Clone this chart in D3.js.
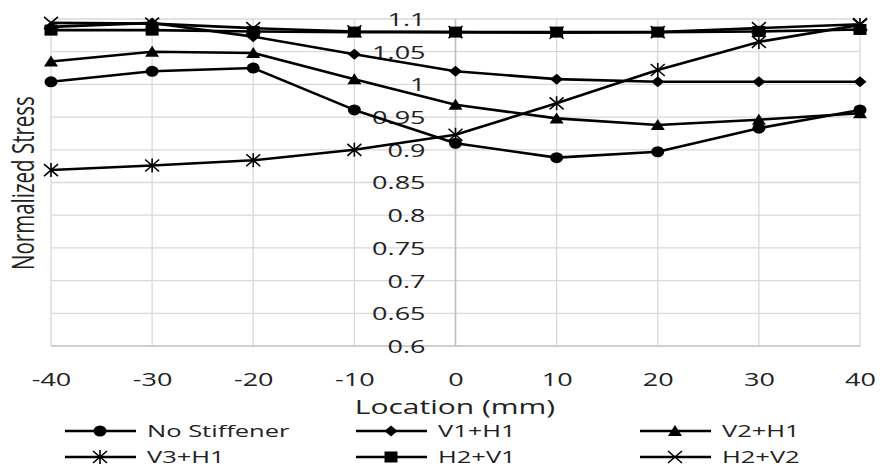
<!DOCTYPE html>
<html>
<head>
<meta charset="utf-8">
<script src="https://cdn.jsdelivr.net/npm/d3@7"></script>
<style>
  html, body { margin: 0; padding: 0; background: #fff; }
  svg { display: block; }
  text { font-family: "Open Sans", sans-serif; fill: #222; }
</style>
</head>
<body>
<svg id="chart" width="880" height="468"></svg>
<script>
// ---- data ----
const locations = [-40, -30, -20, -10, 0, 10, 20, 30, 40];
const xTickLabels = ["-40", "-30", "-20", "-10", "0", "10", "20", "30", "40"];
const yTicks = [0.6, 0.65, 0.7, 0.75, 0.8, 0.85, 0.9, 0.95, 1, 1.05, 1.1];
const yTickLabels = ["0.6", "0.65", "0.7", "0.75", "0.8", "0.85", "0.9", "0.95", "1", "1.05", "1.1"];
const seriesNames = ["No Stiffener", "V1+H1", "V2+H1", "V3+H1", "H2+V1", "H2+V2"];
const noStiffener = [1.004, 1.020, 1.025, 0.961, 0.910, 0.888, 0.897, 0.933, 0.961];
const v1h1 = [1.088, 1.094, 1.073, 1.046, 1.020, 1.008, 1.004, 1.004, 1.004];
const v2h1 = [1.035, 1.050, 1.048, 1.008, 0.969, 0.948, 0.938, 0.946, 0.956];
const v3h1 = [0.869, 0.876, 0.884, 0.900, 0.923, 0.971, 1.022, 1.065, 1.091];
const h2v1 = [1.083, 1.083, 1.081, 1.080, 1.080, 1.080, 1.080, 1.081, 1.084];
const h2v2 = [1.094, 1.093, 1.086, 1.081, 1.080, 1.079, 1.080, 1.086, 1.092];
const markers = ["circle", "diamond", "triangle", "star", "square", "times"];

const seriesValues = [noStiffener, v1h1, v2h1, v3h1, h2v1, h2v2];

// ---- layout ----
const SX = 1.5; // horizontal stretch of text in the reference
const svg = d3.select("#chart");
const x = d3.scaleLinear().domain([-40, 40]).range([51, 860]);
const y = d3.scaleLinear().domain([0.6, 1.1]).range([346, 19]);

// gridlines
const grid = svg.append("g");
grid.selectAll("line.h").data(yTicks).join("line")
  .attr("x1", x(-40)).attr("x2", x(40))
  .attr("y1", d => y(d)).attr("y2", d => y(d))
  .attr("stroke", "#d9d9d9").attr("stroke-width", 1.3);
grid.selectAll("line.v").data(locations).join("line")
  .attr("x1", d => x(d)).attr("x2", d => x(d))
  .attr("y1", y(0.6)).attr("y2", y(1.1))
  .attr("stroke", "#d9d9d9").attr("stroke-width", 1.3);
// bottom axis line and vertical axis line at 0
svg.append("line").attr("x1", x(-40)).attr("x2", x(40)).attr("y1", y(0.6)).attr("y2", y(0.6))
  .attr("stroke", "#c8c8c8").attr("stroke-width", 1.5);
svg.append("line").attr("x1", x(0)).attr("x2", x(0)).attr("y1", y(0.6)).attr("y2", y(1.1))
  .attr("stroke", "#bfbfbf").attr("stroke-width", 1.5);

// y axis (labels left of the x=0 line)
const yAxis = d3.axisLeft(y).tickValues(yTicks).tickFormat((d, i) => yTickLabels[i]).tickSize(0);
const gy = svg.append("g").attr("transform", `translate(${x(0)},0)`).call(yAxis);
gy.select(".domain").remove();
gy.selectAll("text")
  .attr("x", -30 / SX).attr("dy", "0.36em")
  .attr("transform", `scale(${SX},1)`)
  .style("font-size", "18px").style("font-family", "'Open Sans', sans-serif").attr("fill", "#222");

// x axis
const xAxis = d3.axisBottom(x).tickValues(locations).tickFormat((d, i) => xTickLabels[i]).tickSize(0);
const gx = svg.append("g").attr("transform", `translate(0,${y(0.6)})`).call(xAxis);
gx.select(".domain").remove();
gx.selectAll("text")
  .attr("y", 34).attr("dy", "0.36em")
  .attr("transform", `scale(${SX},1)`)
  .style("font-size", "18px").style("font-family", "'Open Sans', sans-serif").attr("fill", "#222");

// axis titles
svg.append("text").attr("transform", `translate(455,407) scale(${SX},1)`)
  .attr("text-anchor", "middle").attr("dy", "0.36em")
  .style("font-size", "20px").text("Location (mm)");
svg.append("text").attr("transform", `translate(23,183) rotate(-90) scale(1,${SX})`)
  .attr("text-anchor", "middle").attr("dy", "0.36em")
  .style("font-size", "20.5px").text("Normalized Stress");

// markers
function drawMarker(g, type, cx, cy) {
  const sw = 1.6;
  if (type === "circle") {
    g.append("ellipse").attr("cx", cx).attr("cy", cy).attr("rx", 6.5).attr("ry", 5.5).attr("fill", "#000");
  } else if (type === "diamond") {
    g.append("path").attr("d", `M${cx},${cy - 5.5}L${cx + 6.5},${cy}L${cx},${cy + 5.5}L${cx - 6.5},${cy}Z`).attr("fill", "#000");
  } else if (type === "triangle") {
    g.append("path").attr("d", `M${cx},${cy - 6}L${cx + 7},${cy + 5}L${cx - 7},${cy + 5}Z`).attr("fill", "#000");
  } else if (type === "square") {
    g.append("rect").attr("x", cx - 6.5).attr("y", cy - 5.5).attr("width", 13).attr("height", 11).attr("fill", "#000");
  } else if (type === "star") {
    g.append("path").attr("d", `M${cx - 7},${cy - 6}L${cx + 7},${cy + 6}M${cx + 7},${cy - 6}L${cx - 7},${cy + 6}M${cx},${cy - 7}L${cx},${cy + 7}`)
      .attr("stroke", "#000").attr("stroke-width", sw).attr("fill", "none");
  } else if (type === "times") {
    g.append("path").attr("d", `M${cx - 7},${cy - 6}L${cx + 7},${cy + 6}M${cx + 7},${cy - 6}L${cx - 7},${cy + 6}`)
      .attr("stroke", "#000").attr("stroke-width", sw).attr("fill", "none");
  }
}

// series
const line = d3.line().x((d, i) => x(locations[i])).y(d => y(d));
seriesValues.forEach((vals, si) => {
  const g = svg.append("g");
  g.append("path").datum(vals).attr("d", line)
    .attr("fill", "none").attr("stroke", "#000").attr("stroke-width", 2.6).attr("stroke-linejoin", "round");
  vals.forEach((v, i) => drawMarker(g, markers[si], x(locations[i]), y(v)));
});

// legend
const legX = [65, 356, 640];
const legY = [431, 457];
seriesNames.forEach((name, i) => {
  const lx = legX[i % 3], ly = legY[Math.floor(i / 3)];
  const g = svg.append("g");
  g.append("line").attr("x1", lx).attr("x2", lx + 71).attr("y1", ly).attr("y2", ly)
    .attr("stroke", "#000").attr("stroke-width", 2.6);
  drawMarker(g, markers[i], lx + 35, ly);
  g.append("text").attr("transform", `translate(${lx + 82},${ly}) scale(${SX},1)`)
    .attr("dy", "0.36em").style("font-size", "17px").text(name);
});
</script>
</body>
</html>
